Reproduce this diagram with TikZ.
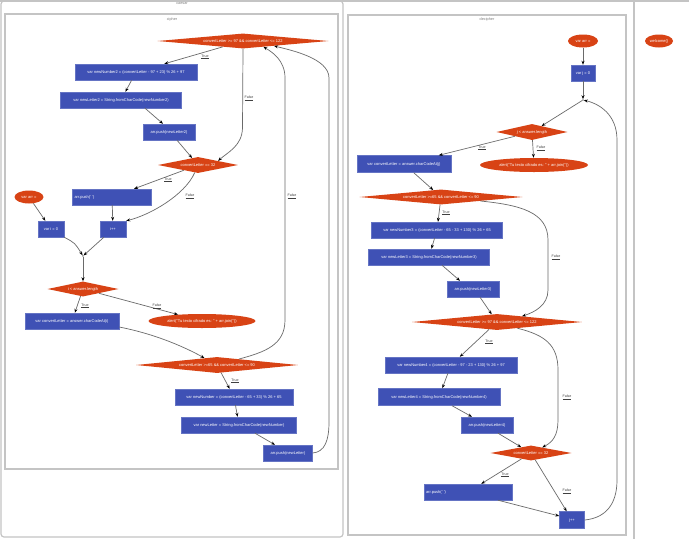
\documentclass[tikz,border=0pt]{standalone}
\usepackage{fontspec}
\setmainfont{Liberation Sans}
\usetikzlibrary{shapes.geometric,arrows.meta}
\definecolor{nblue}{HTML}{3F51B5}
\definecolor{norange}{HTML}{D84315}
\definecolor{egray}{HTML}{6A6A6A}
\definecolor{fgray}{HTML}{C4C4C4}
\newcommand{\sq}{\textquotesingle}
\newcommand{\dq}{\textquotedbl}
\begin{document}
\begin{tikzpicture}[x=1pt,y=-1pt,
  every node/.style={font=\fontsize{4}{4.5}\selectfont},
  box/.style={rectangle,fill=nblue,draw=nblue!80!white,line width=0.4pt,text=white,inner sep=0pt,minimum height=16},
  dia/.style={diamond,fill=norange,text=white,inner sep=0pt,aspect=10},
  ell/.style={ellipse,fill=norange,text=white,inner sep=0pt},
  edge/.style={draw=egray,line width=0.7pt,-{Stealth[length=4pt,width=3pt,color=black]}},
  lbl/.style={text=black!75,font=\fontsize{3.6}{4}\selectfont},
  frame/.style={draw=fgray,line width=1.2pt},
  ttl/.style={text=black!50,font=\fontsize{3.8}{4}\selectfont},
  jn/.style={circle,fill=black,inner sep=0pt,minimum size=1.2pt}]
\useasboundingbox (0,0) rectangle (689,539);
\fill[white] (0,0) rectangle (689,539);

% frames
\draw[frame] (0,1) -- (689,1);
\draw[frame,rounded corners=3] (1,1) rectangle (343,537);
\draw[frame] (5,14) rectangle (338,469);
\draw[frame] (348,15) rectangle (626,535);
\draw[frame] (634,1) -- (634,539);
\node[ttl] (t0) at (182,3) {caesar};
\node[ttl] (t1) at (172,20) {cipher};
\node[ttl] (t2) at (487,20) {decipher};

% ---------------- cipher ----------------
\node[dia,minimum width=171,minimum height=15] (D1) at (243,41) {convertLetter >= 97 \&\& convertLetter <= 122};
\node[box,minimum width=122] (B1) at (136,72) {var newNumber2 = (convertLetter - 97 + 23) \% 26 + 97};
\node[box,minimum width=121] (B2) at (121,100) {var newLetter2 = String.fromCharCode(newNumber2)};
\node[box,minimum width=52] (B3) at (169,132) {arr.push(newLetter2)};
\node[dia,minimum width=80,minimum height=16] (D2) at (198,165) {convertLetter == 32};
\node[box,minimum width=79,text width=75,align=left] (B4) at (112,197) {arr.push(\sq\ \sq)};
\node[ell,minimum width=29,minimum height=13] (S1) at (29,197) {var arr = };
\node[box,minimum width=26] (B5) at (51,229) {var i = 0};
\node[box,minimum width=26] (B6) at (113,229) {i++};
\node[jn] (J1) at (83,256) {};
\node[dia,minimum width=71,minimum height=15] (D3) at (83,289) {i < answer.length};
\node[box,minimum width=94] (B7) at (72,321) {var convertLetter = answer.charCodeAt(i)};
\node[ell,minimum width=107,minimum height=14] (E1) at (202,321) {alert(\dq Tu texto cifrado es: \dq\ + arr.join(\sq\sq))};
\node[dia,minimum width=162,minimum height=16] (D4) at (217,365) {convertLetter >=65 \&\& convertLetter <= 90};
\node[box,minimum width=118] (B8) at (234,397) {var newNumber = (convertLetter - 65 + 33) \% 26 + 65};
\node[box,minimum width=115] (B9) at (239,425) {var newLetter = String.fromCharCode(newNumber)};
\node[box,minimum width=49] (B10) at (288,453) {arr.push(newLetter)};

\draw[edge] (D1) -- (B1);
\draw[edge] (D1.south) -- (242.5,128) .. controls (242,146) and (228,152) .. (D2.north east);
\draw[edge] (B1) -- (B2);
\draw[edge] ([xshift=24]B2.south) -- ([xshift=-6]B3.north);
\draw[edge] ([xshift=8]B3.south) -- (D2);
\draw[edge] (D2) -- (B4);
\draw[edge] (D2) .. controls (185,195) and (150,215) .. (B6.north east);
\draw[edge] (B4) -- (B6);
\draw[edge] (S1) -- (B5);
\draw[edge] (B5.south east) .. controls (75,243) .. (J1);
\draw[edge] (B6) -- (J1);
\draw[edge] (J1) -- (D3);
\draw[edge] (D3) -- (B7);
\draw[edge] (D3) -- (E1);
\draw[edge] ([yshift=-6]B7.east) .. controls (160,335) and (190,350) .. (D4);
\draw[edge] (D4) -- (B8);
\draw[edge] (B8) -- (B9);
\draw[edge] ([xshift=16]B9.south) -- ([xshift=-13]B10.north);
\draw[edge] (D4) .. controls (265,352) and (285,345) .. (285,320) -- (285,78) .. controls (285,60) and (272,52) .. (D1.-16);
\draw[edge] (B10.east) .. controls (325,452) and (329,440) .. (329,422) -- (329,78) .. controls (329,58) and (290,50) .. (D1.-9);

\node[lbl] (l1) at (205,57) {\underline{True}};
\node[lbl] (l2) at (249,98) {\underline{False}};
\node[lbl] (l3) at (168,180) {\underline{True}};
\node[lbl] (l4) at (190,196) {\underline{False}};
\node[lbl] (l5) at (292,196) {\underline{False}};
\node[lbl] (l6) at (85,306) {\underline{True}};
\node[lbl] (l7) at (157,306) {\underline{False}};
\node[lbl] (l8) at (235,381) {\underline{True}};

% ---------------- decipher ----------------
\node[ell,minimum width=30,minimum height=13] (S2) at (583,41) {var arr = };
\node[box,minimum width=24] (B11) at (583,73) {var j = 0};
\node[jn] (J2) at (583,100) {};
\node[dia,minimum width=71,minimum height=16] (D5) at (532,132) {j < answer.length};
\node[box,minimum width=94,minimum height=17] (B12) at (404,164) {var convertLetter = answer.charCodeAt(j)};
\node[ell,minimum width=108,minimum height=14] (E2) at (534,165) {alert(\dq Tu texto cifrado es: \dq\ + arr.join(\sq\sq))};
\node[dia,minimum width=163,minimum height=15] (D6) at (441,197) {convertLetter >=65 \&\& convertLetter <= 90};
\node[box,minimum width=131] (B13) at (437,230) {var newNumber3 = (convertLetter - 65 - 33 + 130) \% 26 + 65};
\node[box,minimum width=121] (B14) at (429,257) {var newLetter3 = String.fromCharCode(newNumber3)};
\node[box,minimum width=52] (B15) at (473,289) {arr.push(newLetter3)};
\node[dia,minimum width=170,minimum height=16] (D7) at (497,322) {convertLetter >= 97 \&\& convertLetter <= 122};
\node[box,minimum width=132] (B16) at (451,365) {var newNumber4 = (convertLetter - 97 - 23 + 130) \% 26 + 97};
\node[box,minimum width=122,minimum height=17] (B17) at (439,397) {var newLetter4 = String.fromCharCode(newNumber4)};
\node[box,minimum width=52] (B18) at (487,425) {arr.push(newLetter4)};
\node[dia,minimum width=81,minimum height=15] (D8) at (531,453) {convertLetter == 32};
\node[box,minimum width=88,text width=84,align=left] (B19) at (468,492) {arr.push(\sq\ \sq)};
\node[box,minimum width=25,minimum height=17] (B20) at (572,520) {j++};

\draw[edge] (S2) -- (B11);
\draw[edge] (B11) -- (J2);
\draw[edge] (J2) -- (D5);
\draw[edge] (D5) -- (B12);
\draw[edge] (D5) -- (E2);
\draw[edge] (B12) -- (D6);
\draw[edge] (D6) -- (B13);
\draw[edge] (D6) .. controls (520,205) and (548,212) .. (548,240) -- (548,290) .. controls (548,305) and (535,312) .. (D7.13);
\draw[edge] (B13) -- (B14);
\draw[edge] ([xshift=13]B14.south) -- ([xshift=-13]B15.north);
\draw[edge] ([xshift=7]B15.south) -- (D7);
\draw[edge] (D7) -- (B16);
\draw[edge] (B16) -- (B17);
\draw[edge] ([xshift=13]B17.south) -- ([xshift=-15]B18.north);
\draw[edge] ([xshift=11]B18.south) -- (D8);
\draw[edge] (D7.-17) .. controls (545,335) and (558,345) .. (558,370) -- (558,420) .. controls (558,435) and (553,442) .. (D8);
\draw[edge] (D8) -- (B19);
\draw[edge] (D8) -- (B20);
\draw[edge] ([xshift=30]B19.south) -- ([yshift=4]B20.west);
\draw[edge] (B20.east) .. controls (605,518) and (617,505) .. (617,480) -- (617,140) .. controls (617,115) and (600,104) .. (J2);

\node[lbl] (l9) at (482,148) {\underline{True}};
\node[lbl] (l10) at (541,148) {\underline{False}};
\node[lbl] (l11) at (446,213) {\underline{True}};
\node[lbl] (l12) at (556,257) {\underline{False}};
\node[lbl] (l13) at (489,342) {\underline{True}};
\node[lbl] (l14) at (567,397) {\underline{False}};
\node[lbl] (l15) at (505,475) {\underline{True}};
\node[lbl] (l16) at (567,491) {\underline{False}};

% ---------------- welcome ----------------
\node[ell,minimum width=28,minimum height=13] (W) at (659,41) {welcome()};
\end{tikzpicture}
\end{document}
